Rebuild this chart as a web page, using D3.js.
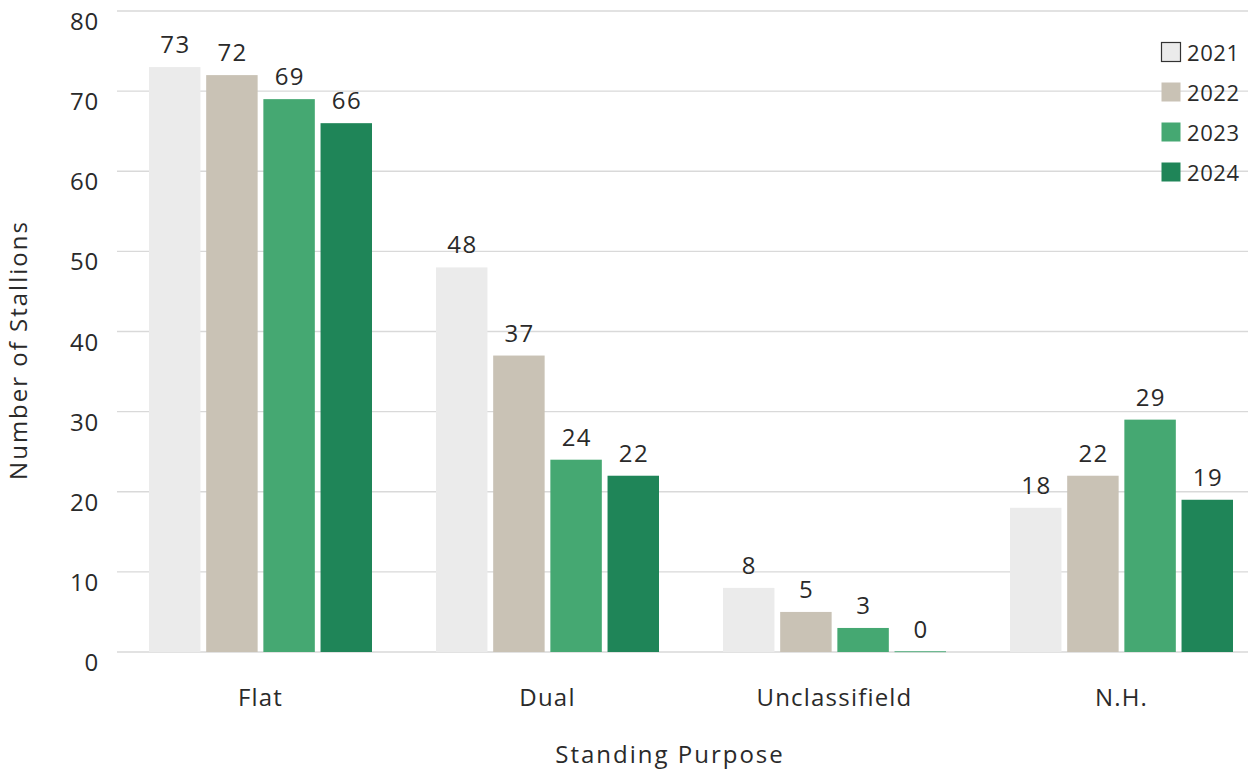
<!DOCTYPE html>
<html><head><meta charset="utf-8">
<script src="https://cdn.jsdelivr.net/npm/d3@7"></script>
<style>body{margin:0;background:#fff;}svg{display:block;font-family:"Open Sans",sans-serif;}</style>
</head><body><svg id="c" width="1257" height="770"></svg>
<script>
const categories = ["Flat","Dual","Unclassifield","N.H."];
const years = ["2021","2022","2023","2024"];
const v2021 = [73,48,8,18];
const v2022 = [72,37,5,22];
const v2023 = [69,24,3,29];
const v2024 = [66,22,0,19];
const yTicks = [0,10,20,30,40,50,60,70,80];
const colors = ["#ebebeb","#c9c2b5","#45a872","#1f8558"];
const series = [v2021,v2022,v2023,v2024];

const svg = d3.select("#c");
const mLeft = 117, mRight = 1265, gridRight = 1248, mTop = 11, mBottom = 652;
const x = d3.scaleBand().domain(categories).range([mLeft,mRight]).paddingInner(0).paddingOuter(0);
const x1 = d3.scaleBand().domain(years).range([32, x.bandwidth()-32]).paddingInner(0.1);
const y = d3.scaleLinear().domain([0,80]).range([mBottom,mTop]);
const txt = "#2a2a2a";

// grid
svg.append("g").selectAll("line").data(yTicks).join("line")
  .attr("x1",mLeft).attr("x2",gridRight)
  .attr("y1",d=>y(d)).attr("y2",d=>y(d))
  .attr("stroke","#d9d9d9").attr("stroke-width",1.3);

// y tick labels
svg.append("g").selectAll("text").data(yTicks).join("text")
  .attr("x",99).attr("y",d=>y(d)+19).attr("text-anchor","end")
  .attr("font-size",24).attr("letter-spacing",0.8).attr("fill",txt).text(d=>d);

// bars
const g = svg.append("g");
categories.forEach((c,ci)=>{
  years.forEach((yr,si)=>{
    const val = series[si][ci];
    const bx = x(c)+x1(yr);
    g.append("rect").attr("x",bx).attr("width",x1.bandwidth())
      .attr("y",val===0? y(0)-1 : y(val)).attr("height",val===0?1.2:y(0)-y(val))
      .attr("fill",val===0?"#6fb992":colors[si]);
    g.append("text").attr("x",bx+x1.bandwidth()/2+0.7).attr("y",y(val)-14)
      .attr("text-anchor","middle").attr("font-size",24).attr("letter-spacing",1.4)
      .attr("fill",txt).text(val);
  });
});

// x tick labels
svg.append("g").selectAll("text").data(categories).join("text")
  .attr("x",d=>x(d)+x.bandwidth()/2).attr("y",706).attr("text-anchor","middle")
  .attr("font-size",24).attr("letter-spacing",1.2).attr("fill",txt).text(d=>d);

// axis titles
svg.append("text").attr("x",670).attr("y",763).attr("text-anchor","middle")
  .attr("font-size",24).attr("letter-spacing",2).attr("fill",txt).text("Standing Purpose");
svg.append("text").attr("transform","translate(27,350) rotate(-90)").attr("text-anchor","middle")
  .attr("font-size",24).attr("letter-spacing",2).attr("fill",txt).text("Number of Stallions");

// legend
const lg = svg.append("g");
years.forEach((yr,i)=>{
  const cy = 52 + i*40;
  lg.append("rect").attr("x",1161.5).attr("y",cy-9.5).attr("width",19).attr("height",19)
    .attr("fill",colors[i]).attr("stroke",i===0?"#333":"none").attr("stroke-width",1.2);
  lg.append("text").attr("x",1187).attr("y",cy+9).attr("font-size",22).attr("letter-spacing",0.6)
    .attr("fill",txt).text(yr);
});
</script></body></html>
